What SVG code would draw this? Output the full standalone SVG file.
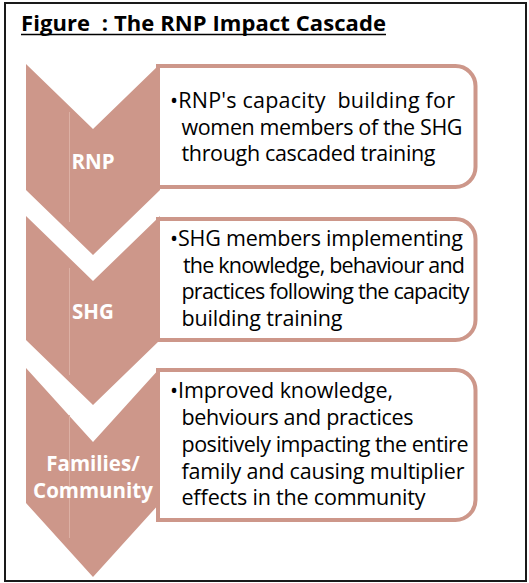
<svg xmlns="http://www.w3.org/2000/svg" width="529" height="583" viewBox="0 0 529 583">
  <style>
    .chev { fill: #cd978a; }
    .seam { stroke: #dcb0a4; stroke-width: 1; }
    .box { fill: #ffffff; stroke: #cd978a; stroke-width: 4; }
    .lbl { font-family: "Open Sans", "Noto Sans", sans-serif; font-weight: bold; font-size: 20.5px; fill: #ffffff; text-anchor: middle; }
    .body { font-family: "Open Sans", "Noto Sans", sans-serif; font-size: 21.5px; fill: #000000; white-space: pre; }
    .title { font-family: "Open Sans", "Noto Sans", sans-serif; font-weight: bold; font-size: 22px; fill: #000000; white-space: pre; }
  </style>
  <rect x="5" y="3" width="521" height="578" fill="#ffffff" stroke="#1a1a1a" stroke-width="2"/>
  <g id="title">
    <text class="title" x="21" y="31" textLength="365">Figure  : The RNP Impact Cascade</text>
    <line x1="21" y1="34.5" x2="386" y2="34.5" stroke="#000" stroke-width="1.6"/>
  </g>

  <g id="chevron-rnp">
    <polygon class="chev" points="26,64 93,129 160,64 160,190 93,255 26,190"/>
    <line class="seam" x1="69.5" y1="112" x2="69.5" y2="222"/>
    <text class="lbl" x="93" y="169">RNP</text>
  </g>
  <g id="chevron-shg">
    <polygon class="chev" points="26,216 93,281 160,216 160,340 93,405 26,340"/>
    <line class="seam" x1="69.5" y1="268" x2="69.5" y2="375"/>
    <text class="lbl" x="93" y="319">SHG</text>
  </g>
  <g id="chevron-families">
    <polygon class="chev" points="26,368 93,442 160,368 160,503 93,577 26,503"/>
    <line class="seam" x1="69.5" y1="415" x2="69.5" y2="538"/>
    <text class="lbl" x="93" y="471">Families/</text>
    <text class="lbl" x="93" y="497.5">Community</text>
  </g>

  <g id="box-rnp">
    <path class="box" d="M158,66 H455.5 A20,20 0 0 1 475.5,86 V167 A20,20 0 0 1 455.5,187 H158 Z"/>
    <text class="body" x="170" y="108" textLength="285">•RNP's capacity  building for</text>
    <text class="body" x="181.5" y="134.5" textLength="281">women members of the SHG</text>
    <text class="body" x="181.5" y="161" textLength="254">through cascaded training</text>
  </g>
  <g id="box-shg">
    <path class="box" d="M158,219 H455.5 A20,20 0 0 1 475.5,239 V320 A20,20 0 0 1 455.5,340 H158 Z"/>
    <text class="body" x="170" y="246" textLength="293">•SHG members implementing</text>
    <text class="body" x="183" y="272.5" textLength="282">the knowledge, behaviour and</text>
    <text class="body" x="181.5" y="299" textLength="288">practices following the capacity</text>
    <text class="body" x="181.5" y="325.5" textLength="161">building training</text>
  </g>
  <g id="box-families">
    <path class="box" d="M158,370 H455.5 A20,20 0 0 1 475.5,390 V500 A20,20 0 0 1 455.5,520 H158 Z"/>
    <text class="body" x="170" y="398" textLength="223">•Improved knowledge,</text>
    <text class="body" x="181.5" y="425" textLength="232">behviours and practices</text>
    <text class="body" x="181.5" y="452" textLength="287">positively impacting the entire</text>
    <text class="body" x="181.5" y="478.5" textLength="283">family and causing multiplier</text>
    <text class="body" x="181.5" y="505" textLength="244">effects in the community</text>
  </g>

  <g id="connectors"/>
</svg>
